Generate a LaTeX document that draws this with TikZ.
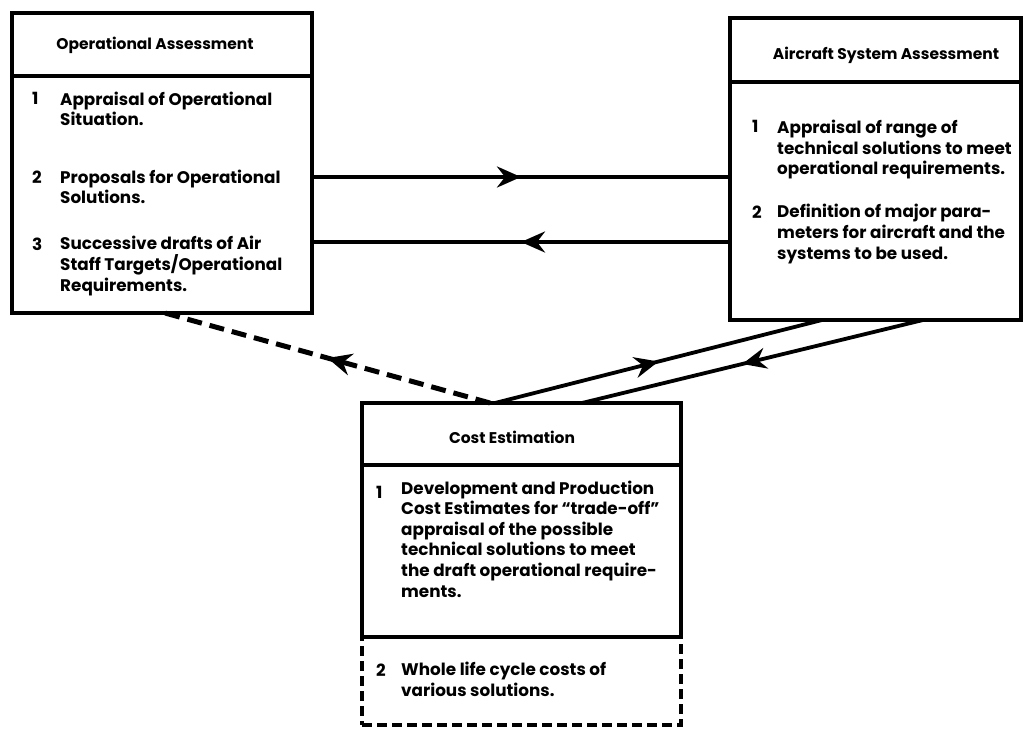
\documentclass[tikz,border=0pt]{standalone}
\usepackage{fontspec}
\setmainfont{Poppins}
\usetikzlibrary{arrows.meta,decorations.markings}

\begin{document}
\begin{tikzpicture}[x=1pt,y=-1pt,
  box/.style={draw, line width=3.6pt, anchor=north west, inner sep=0pt, outer sep=0pt},
  dashbox/.style={draw, line width=3.6pt, dash pattern=on 10pt off 5pt, anchor=north west, inner sep=0pt, outer sep=0pt},
  rule/.style={line width=3.2pt},
  heading/.style={font=\bfseries\fontsize{15.5}{18}\selectfont, inner sep=0pt},
  itemtext/.style={font=\bfseries\fontsize{16.8}{20.6}\selectfont, align=left, anchor=base west, inner sep=0pt},
  itemnum/.style={font=\bfseries\fontsize{16.8}{20.6}\selectfont, anchor=base west, inner sep=0pt},
  flow/.style={line width=3.8pt, postaction={decorate}, decoration={markings,
      mark=at position #1 with {\arrow{Stealth[length=24pt,width=21pt,inset=8pt]}}}},
  flow/.default=0.5,
  backflow/.style={line width=5pt, dash pattern=on 15pt off 8pt, postaction={decorate}, decoration={markings,
      mark=at position 0.5 with {\arrow{Stealth[length=24pt,width=22pt,inset=8pt]}}}},
]
\useasboundingbox (0,0) rectangle (1027,730);

% --- Operational Assessment ---
\node[box, minimum width=300pt, minimum height=300pt] (op) at (12,13) {};
\draw[rule] ([yshift=-63pt]op.north west) -- ([yshift=-63pt]op.north east);
\node[heading] (opT) at (155,45) {Operational Assessment};
\node[itemnum] (opN1) at (32,105) {1};
\node[itemtext] (opI1) at (60,126) {Appraisal of Operational\\Situation.};
\node[itemnum] (opN2) at (32,184) {2};
\node[itemtext] (opI2) at (60,204) {Proposals for Operational\\Solutions.};
\node[itemnum] (opN3) at (32,250) {3};
\node[itemtext] (opI3) at (60,291) {Successive drafts of Air\\Staff Targets/Operational\\Requirements.};

% --- Aircraft System Assessment ---
\node[box, minimum width=291pt, minimum height=302pt] (ac) at (730,18) {};
\draw[rule] ([yshift=-64pt]ac.north west) -- ([yshift=-64pt]ac.north east);
\node[heading] (acT) at (886,55) {Aircraft System Assessment};
\node[itemnum] (acN1) at (752,133) {1};
\node[itemtext] (acI1) at (777,175) {Appraisal of range of\\technical solutions to meet\\operational requirements.};
\node[itemnum] (acN2) at (752,218) {2};
\node[itemtext] (acI2) at (777,259) {Definition of major para-\\meters for aircraft and the\\systems to be used.};

% --- Cost Estimation ---
\node[dashbox, minimum width=319pt, minimum height=88pt] (ceL) at (362,637) {};
\node[box, fill=white, minimum width=319pt, minimum height=234pt] (ce) at (362,403) {};
\draw[rule] ([yshift=-62pt]ce.north west) -- ([yshift=-62pt]ce.north east);
\node[heading] (ceT) at (512,437) {Cost Estimation};
\node[itemnum] (ceN1) at (376,498) {1};
\node[itemtext] (ceI1) at (401,597) {Development and Production\\Cost Estimates for “trade-off”\\appraisal of the possible\\technical solutions to meet\\the draft operational require-\\ments.};
\node[itemnum] (ceN2) at (376,676) {2};
\node[itemtext] (ceI2) at (401,696) {Whole life cycle costs of\\various solutions.};

% --- Connectors ---
\draw[flow] ([yshift=-164pt]op.north east) -- ([yshift=-159pt]ac.north west);
\draw[flow] ([yshift=-224pt]ac.north west) -- ([yshift=-229pt]op.north east);
\draw[backflow] ([xshift=128pt]ce.north west) -- ([xshift=153pt]op.south west);
\draw[flow] ([xshift=133pt]ce.north west) -- ([xshift=92pt]ac.south west);
\draw[flow=0.53] ([xshift=193pt]ac.south west) -- ([xshift=220pt]ce.north west);
\end{tikzpicture}
\end{document}
